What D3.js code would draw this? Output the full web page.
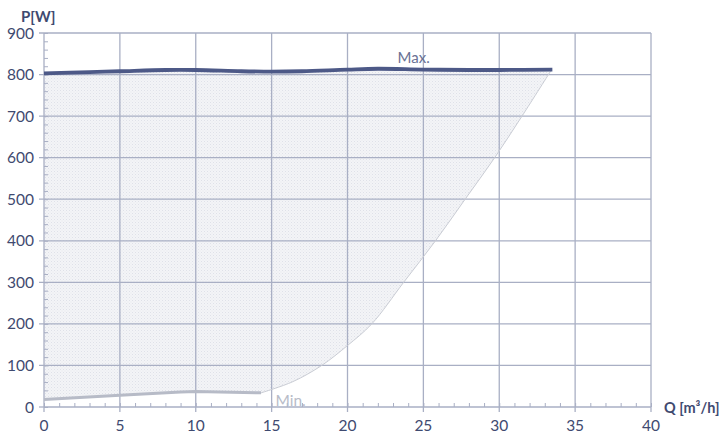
<!DOCTYPE html>
<html><head><meta charset="utf-8">
<script src="https://cdn.jsdelivr.net/npm/d3@7"></script>
<style>body{margin:0;background:#fff}svg{display:block}</style>
</head><body>
<svg id="c" width="720" height="435"></svg>
<script>
const xTicks = [0,5,10,15,20,25,30,35,40];
const yTicks = [0,100,200,300,400,500,600,700,800,900];
const maxQ = [0, 3, 5, 8, 10, 13, 15, 17, 20, 22, 25, 28, 30, 33.5];
const maxP = [803, 806, 808, 811, 811, 808, 807, 808, 812, 814, 812, 811, 811, 812];
const minQ = [0, 5, 9, 10, 14.3];
const minP = [18, 28, 36, 37, 34];
const bndQ = [14.3, 16.4, 18.3, 20, 21.6, 23.7, 25.8, 27.75, 29.7, 31.5, 33.4];
const bndP = [34, 61, 100, 148, 200, 300, 400, 500, 600, 700, 809];
const xLabel = "Q [m³/h]", yLabel = "P[W]", maxLabel = "Max.", minLabel = "Min.";

const svg = d3.select("#c");
const x = d3.scaleLinear().domain([0,40]).range([44,651]);
const y = d3.scaleLinear().domain([0,900]).range([407,33]);
const grid = "#a9afc4", txt = "#3f4a70";
const font = "Lato, 'Open Sans', sans-serif";

const defs = svg.append("defs");
const pat = defs.append("pattern").attr("id","dots").attr("patternUnits","userSpaceOnUse").attr("width",3).attr("height",3);
pat.append("rect").attr("width",3).attr("height",3).attr("fill","#f3f4f7");
pat.append("rect").attr("width",1).attr("height",1).attr("fill","#dfe1e8");
pat.append("rect").attr("x",1.5).attr("y",1.5).attr("width",1).attr("height",1).attr("fill","#e7e9ee");

const maxPts = maxQ.map((q,i)=>[q,maxP[i]]);
const minPts = minQ.map((q,i)=>[q,minP[i]]);
const bndPts = bndQ.map((q,i)=>[q,bndP[i]]);
const cr = d3.line().x(d=>x(d[0])).y(d=>y(d[1])).curve(d3.curveCatmullRom.alpha(0.5));
const straight = d3.line().x(d=>x(d[0])).y(d=>y(d[1]));

// fill region
const areaD = straight(minPts) + cr(bndPts).replace(/^M/,"L") + cr(maxPts.slice().reverse()).replace(/^M/,"L") + "Z";
svg.append("path").attr("d", areaD).attr("fill","url(#dots)");

// grid
svg.append("g").selectAll("line").data(xTicks.slice(1)).join("line")
  .attr("x1",d=>x(d)).attr("x2",d=>x(d)).attr("y1",y(900)).attr("y2",y(0)+5)
  .attr("stroke",grid).attr("stroke-width",1.3);
svg.append("g").selectAll("line").data(yTicks.slice(1)).join("line")
  .attr("x1",x(0)-5).attr("x2",x(40)).attr("y1",d=>y(d)).attr("y2",d=>y(d))
  .attr("stroke",grid).attr("stroke-width",1.3);

// axes
const xa = svg.append("g").attr("transform",`translate(0,${y(0)})`)
  .call(d3.axisBottom(x).tickValues(d3.range(0,41,1)).tickSize(-4).tickFormat(""));
xa.select(".domain").remove();
xa.selectAll("line").attr("stroke",grid);
const ya = svg.append("g").attr("transform",`translate(${x(0)},0)`)
  .call(d3.axisRight(y).tickValues(d3.range(0,901,20)).tickSize(4).tickFormat(""));
ya.select(".domain").remove();
ya.selectAll("line").attr("stroke",grid);
svg.append("line").attr("x1",x(0)).attr("x2",x(40)).attr("y1",y(0)).attr("y2",y(0)).attr("stroke",grid).attr("stroke-width",1.3);
svg.append("line").attr("x1",x(0)).attr("x2",x(0)).attr("y1",y(900)).attr("y2",y(0)+5).attr("stroke",grid).attr("stroke-width",1.3);
svg.append("line").attr("x1",x(0)-5).attr("x2",x(0)).attr("y1",y(0)).attr("y2",y(0)).attr("stroke",grid).attr("stroke-width",1.3);

// tick labels
svg.append("g").selectAll("text").data(xTicks).join("text")
  .attr("x",d=>x(d)).attr("y",y(0)+24).attr("text-anchor","middle")
  .attr("font-family",font).attr("font-size",15.5).attr("fill",txt).text(d=>d);
svg.append("g").selectAll("text").data(yTicks).join("text")
  .attr("x",x(0)-10).attr("y",d=>y(d)+5.5).attr("text-anchor","end")
  .attr("font-family",font).attr("font-size",15.5).attr("fill",txt).text(d=>d);

// boundary curve
svg.append("path").attr("d",cr(bndPts)).attr("fill","none").attr("stroke","#c9ccd4").attr("stroke-width",1);
// min line
svg.append("path").attr("d",straight(minPts))
  .attr("fill","none").attr("stroke","#b7bbc7").attr("stroke-width",3);
// max line
svg.append("path").attr("d",cr(maxPts)).attr("fill","none").attr("stroke","#4d5987").attr("stroke-width",3.8);

// labels
svg.append("text").attr("x",x(23.3)).attr("y",63).attr("font-family",font).attr("font-size",15)
  .attr("fill","#6a7295").text(maxLabel);
svg.append("text").attr("x",x(15.25)).attr("y",406).attr("font-family",font).attr("font-size",15.5)
  .attr("fill","#b8bcc8").text(minLabel);
svg.append("text").attr("x",21).attr("y",22).attr("font-family",font).attr("font-size",15).attr("font-weight","bold")
  .attr("fill",txt).text(yLabel);
svg.append("text").attr("x",664).attr("y",y(0)+6).attr("font-family",font).attr("font-size",14.5).attr("font-weight","bold")
  .attr("fill",txt).text(xLabel);
</script>
</body></html>
